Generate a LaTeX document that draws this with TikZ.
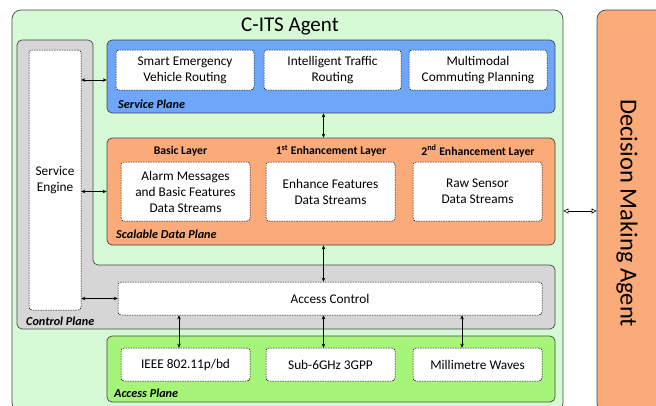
\documentclass[tikz,border=0pt]{standalone}
\usepackage{fontspec}
\setmainfont{Carlito}
\usetikzlibrary{arrows.meta,calc}
\definecolor{outergreen}{RGB}{214,250,214}
\definecolor{planeblue}{RGB}{110,166,250}
\definecolor{planeorange}{RGB}{251,170,122}
\definecolor{planegreen}{RGB}{166,245,122}
\definecolor{planegray}{RGB}{214,214,214}
\definecolor{edgegray}{RGB}{70,70,70}
\tikzset{
  plane/.style={draw=edgegray, line width=0.7pt, rounded corners=5pt, inner sep=0pt},
  funcbox/.style={draw=black, dashed, dash pattern=on 1.5pt off 1pt, line width=0.5pt, fill=white, rounded corners=3pt, inner sep=0pt, align=center, font=\fontsize{13.3}{16}\selectfont},
  planelabel/.style={font=\fontsize{12.2}{13}\selectfont\bfseries\itshape, anchor=west, inner sep=0pt},
  layerlabel/.style={font=\fontsize{11.7}{13}\selectfont\bfseries, inner sep=0pt},
  arr/.style={{Stealth[length=4pt,width=3.5pt]}-{Stealth[length=4pt,width=3.5pt]}, line width=0.6pt},
  arrb/.style={{Triangle[open,length=5pt,width=5pt]}-{Triangle[open,length=5pt,width=5pt]}, line width=0.6pt},
  big/.style={font=\fontsize{21}{24}\selectfont}
}
\begin{document}
\begin{tikzpicture}[x=1pt,y=-1pt]
\useasboundingbox (0,0) rectangle (656,405);
% outer agents
\node[plane, fill=outergreen, minimum width=551pt, minimum height=402pt, rounded corners=9pt] (cits) at (287.5,211) {};
\node[big] (title) at (290,26) {C-ITS Agent};
\node[plane, fill=planeorange, minimum width=70pt, minimum height=402pt, rounded corners=9pt] (dma) at (632,211) {};
\node[big, font=\fontsize{24.5}{28}\selectfont, rotate=-90] (dmatext) at (627,213) {Decision Making Agent};
% control plane L-shape
\draw[plane, fill=planegray] (17,40) -- (93,40) -- (93,265) -- (555,265) -- (555,329) -- (17,329) -- cycle;
\node[planelabel] (cpl) at (26,321) {Control Plane};
% service plane
\node[plane, fill=planeblue, minimum width=448pt, minimum height=73pt] (sp) at (331,76.5) {};
\node[planelabel] (spl) at (118,104) {Service Plane};
\node[funcbox, minimum width=138pt, minimum height=40pt] (s1) at (185,70) {Smart Emergency\\Vehicle Routing};
\node[funcbox, minimum width=137pt, minimum height=40pt] (s2) at (332.5,70) {Intelligent Traffic\\Routing};
\node[funcbox, minimum width=138pt, minimum height=40pt] (s3) at (478,70) {Multimodal\\Commuting Planning};
% scalable data plane
\node[plane, fill=planeorange, minimum width=448pt, minimum height=107pt] (sdp) at (331,191.5) {};
\node[planelabel] (sdpl) at (116,234) {Scalable Data Plane};
\node[layerlabel] (l1) at (180.5,151) {Basic Layer};
\node[layerlabel] (l2) at (331,151) {1\textsuperscript{st} Enhancement Layer};
\node[layerlabel] (l3) at (478,151) {2\textsuperscript{nd} Enhancement Layer};
\node[funcbox, minimum width=129pt, minimum height=59pt] (d1) at (185.5,191.5) {Alarm Messages\\and Basic Features\\Data Streams};
\node[funcbox, minimum width=129pt, minimum height=59pt] (d2) at (330.5,191.5) {Enhance Features\\Data Streams};
\node[funcbox, minimum width=129pt, minimum height=59pt] (d3) at (477.5,191.5) {Raw Sensor\\Data Streams};
% service engine and access control
\node[funcbox, minimum width=52pt, minimum height=260pt] (se) at (55,180) {Service\\Engine};
\node[funcbox, minimum width=424pt, minimum height=33pt] (ac) at (330,298.5) {Access Control};
% access plane
\node[plane, fill=planegreen, minimum width=448pt, minimum height=66pt] (ap) at (331,369) {};
\node[planelabel] (apl) at (114,393) {Access Plane};
\node[funcbox, minimum width=129pt, minimum height=33pt] (a1) at (185.5,364.5) {IEEE 802.11p/bd};
\node[funcbox, minimum width=129pt, minimum height=33pt] (a2) at (330.5,364.5) {Sub-6GHz 3GPP};
\node[funcbox, minimum width=129pt, minimum height=33pt] (a3) at (477.5,364.5) {Millimetre Waves};
% connectors
\coordinate (vx) at (323.5,0);
\coordinate (ax1) at (179,0);
\coordinate (ax3) at (462,0);
\draw[arr] (se.east |- 0,80) -- (sp.west |- 0,80);
\draw[arr] (se.east |- sdp.west) -- (sdp.west);
\draw[arr] (se.east |- ac.west) -- (ac.west);
\draw[arr] (sp.south -| vx) -- (sdp.north -| vx);
\draw[arr] (sdp.south -| vx) -- (ac.north -| vx);
\draw[arr] (ac.south -| ax1) -- (a1.north -| ax1);
\draw[arr] (ac.south -| vx) -- (a2.north -| vx);
\draw[arr] (ac.south -| ax3) -- (a3.north -| ax3);
\draw[arrb] (cits.east) -- (dma.west);
\end{tikzpicture}
\end{document}
